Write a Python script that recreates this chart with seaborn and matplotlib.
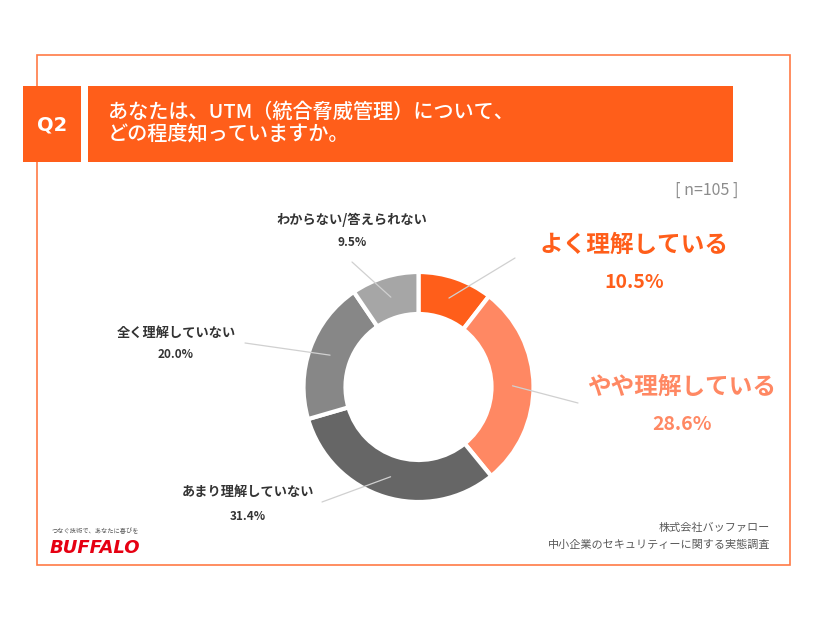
import numpy as np
import seaborn as sns
import matplotlib.pyplot as plt
from matplotlib.patches import Rectangle

# survey data (n=105)
categories = ['よく理解している', 'やや理解している', 'あまり理解していない',
              '全く理解していない', 'わからない/答えられない']
shares = [10.5, 28.6, 31.4, 20.0, 9.5]
pct_labels = ['10.5%', '28.6%', '31.4%', '20.0%', '9.5%']

title = 'あなたは、UTM（統合脅威管理）について、\nどの程度知っていますか。'
sample_note = '[ n=105 ]'
source_lines = ['株式会社バッファロー', '中小企業のセキュリティーに関する実態調査']

sns.set_theme(style='white')
plt.rcParams['font.family'] = ['Noto Sans CJK JP', 'DejaVu Sans']

ORANGE = '#FF5E1A'
LIGHT_ORANGE = '#FF8863'
colors = [ORANGE, LIGHT_ORANGE, '#666666', '#878787', '#A6A6A6']

W, H = 826, 620
fig = plt.figure(figsize=(W / 100, H / 100), dpi=100)
ax = fig.add_axes([0, 0, 1, 1])

def Y(y):
    # pixel rows measured from the top
    return H - y

# donut
cx, cy, R = 418.5, Y(387), 115
ring = 42
ax.pie(shares, colors=colors, startangle=90, counterclock=False,
       center=(cx, cy), radius=R,
       wedgeprops=dict(width=ring, edgecolor='white', linewidth=3))
ax.set_xlim(0, W)
ax.set_ylim(0, H)
ax.set_aspect('equal')
ax.set_axis_off()

# frame + header
ax.add_patch(Rectangle((37, Y(565)), 753, 510, fill=False, edgecolor='#FF7A45', lw=1.2))
ax.add_patch(Rectangle((23, Y(162)), 58, 76, color=ORANGE, lw=0))
ax.add_patch(Rectangle((88, Y(162)), 645, 76, color=ORANGE, lw=0))
ax.text(52, Y(125), 'Q2', color='white', fontsize=14, fontweight='bold',
        ha='center', va='center', family=['DejaVu Sans'])
ax.text(108, Y(123), title, color='white', fontsize=14.5, fontweight='medium',
        ha='left', va='center', linespacing=1.2)

ax.text(738, Y(190), sample_note, color='#8C8C8C', fontsize=11.5, ha='right', va='center')

# labels with leader lines (label layout positions)
label_pos = [(634, 245, 282), (682, 387, 424), (248, 492, 516), (176, 333, 355), (352, 220, 243)]
line_end = [(515, 258), (578, 403), (322, 502), (245, 343), (352, 262)]
big = [True, True, False, False, False]

cum = np.cumsum([0] + shares[:-1])
r_mid = R - ring / 2
for i, name in enumerate(categories):
    ang = np.deg2rad(90 - (cum[i] + shares[i] / 2) * 3.6)
    x0, y0 = cx + r_mid * np.cos(ang), cy + r_mid * np.sin(ang)
    ex, ey = line_end[i]
    ax.plot([x0, ex], [y0, Y(ey)], color='#D0D0D0', lw=0.9)
    lx, ly1, ly2 = label_pos[i]
    if big[i]:
        ax.text(lx, Y(ly1), name, color=colors[i], fontsize=17, fontweight='bold',
                ha='center', va='center')
        ax.text(lx, Y(ly2), pct_labels[i], color=colors[i], fontsize=14, fontweight='bold',
                ha='center', va='center')
    else:
        ax.text(lx, Y(ly1), name, color='#333333', fontsize=9.5, fontweight='bold',
                ha='center', va='center')
        ax.text(lx, Y(ly2), pct_labels[i], color='#333333', fontsize=8.5, fontweight='bold',
                ha='center', va='center')

# source
ax.text(770, Y(528), source_lines[0], color='#595959', fontsize=8, ha='right', va='center')
ax.text(770, Y(545), source_lines[1], color='#595959', fontsize=8, ha='right', va='center')

# logo
ax.text(52, Y(531), 'つなぐ技術で、あなたに喜びを', color='#555555', fontsize=4.5,
        ha='left', va='center')
ax.text(50, Y(548), 'BUFFALO', color='#E60012', fontsize=13, fontweight='heavy',
        style='italic', ha='left', va='center', family=['DejaVu Sans'])

fig.savefig('out.png', dpi=100, facecolor='white')
